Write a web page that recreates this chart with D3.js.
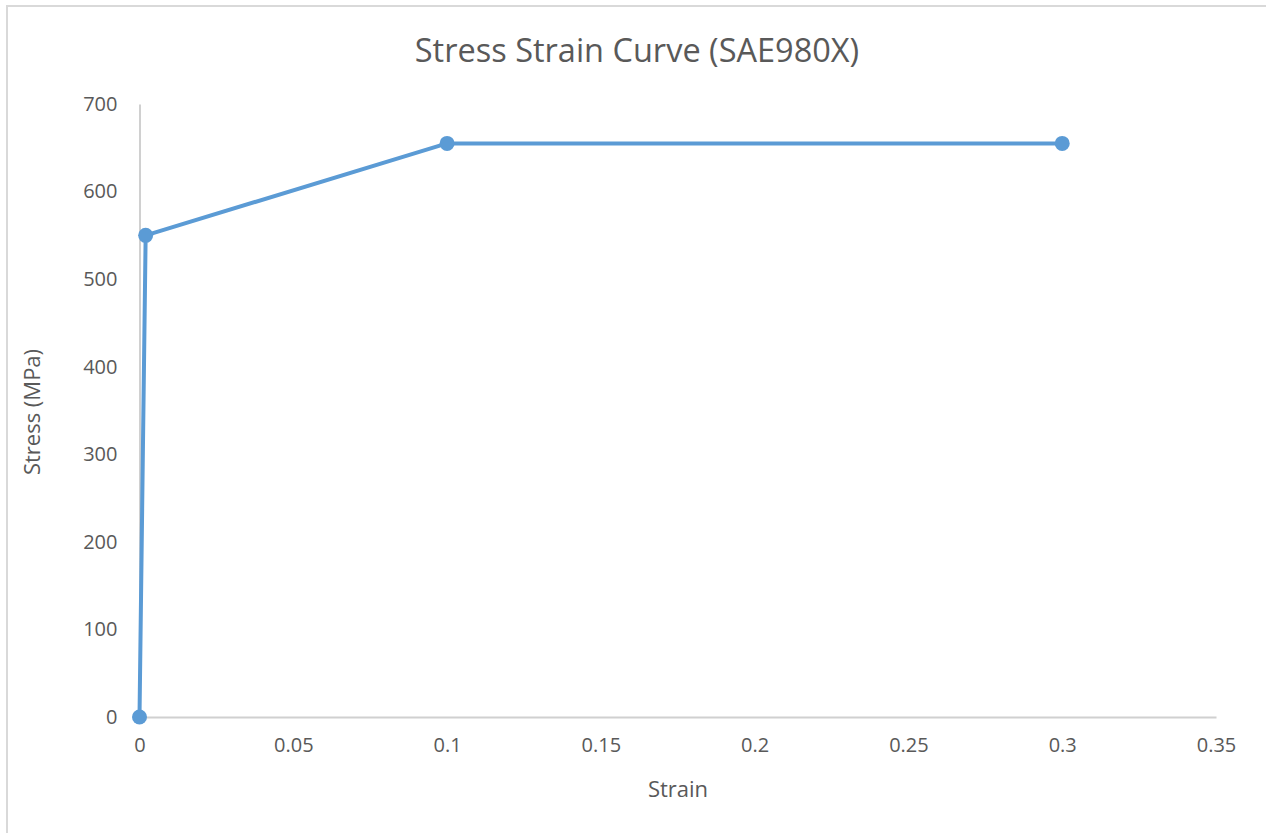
<!DOCTYPE html>
<html>
<head>
<meta charset="utf-8">
<script src="https://cdn.jsdelivr.net/npm/d3@7"></script>
<style>
  html, body { margin: 0; padding: 0; background: #fff; }
  svg { display: block; font-family: "Open Sans", "Noto Sans", sans-serif; }
</style>
</head>
<body>
<svg id="chart" width="1266" height="833"></svg>
<script>
// Stress–strain points for SAE980X
const strain = [0, 0.002, 0.1, 0.3];
const stress = [0, 550, 655, 655];
const xTicks = [0, 0.05, 0.1, 0.15, 0.2, 0.25, 0.3, 0.35];
const yTicks = [0, 100, 200, 300, 400, 500, 600, 700];

const svg = d3.select("#chart");
const W = 1266, H = 833;
const plot = { left: 139.5, right: 1216, top: 104, bottom: 717 };

// chart frame (top and left edges visible)
svg.append("path")
  .attr("d", `M7,${H} V6 H${W}`)
  .attr("fill", "none")
  .attr("stroke", "#d9d9d9")
  .attr("stroke-width", 2);

const x = d3.scaleLinear().domain([0, 0.35]).range([plot.left, plot.right]);
const y = d3.scaleLinear().domain([0, 700]).range([plot.bottom, plot.top]);

const textColor = "#595959";
const tickFont = "20px";

// x axis
const xAxis = svg.append("g")
  .attr("transform", `translate(0,${plot.bottom})`)
  .call(d3.axisBottom(x).tickValues(xTicks).tickSize(0).tickPadding(21)
        .tickFormat(d => String(+d.toFixed(2))));
xAxis.select(".domain").attr("stroke", "#d0d0d0").attr("stroke-width", 2);
xAxis.selectAll("text").attr("fill", textColor)
  .style("font-size", tickFont)
  .style("font-family", "'Open Sans', 'Noto Sans', sans-serif");

// y axis
const yAxis = svg.append("g")
  .attr("transform", `translate(${plot.left},0)`)
  .call(d3.axisLeft(y).tickValues(yTicks).tickSize(0).tickPadding(22));
yAxis.select(".domain").attr("stroke", "#d0d0d0").attr("stroke-width", 2);
yAxis.selectAll("text").attr("fill", textColor)
  .style("font-size", tickFont)
  .style("font-family", "'Open Sans', 'Noto Sans', sans-serif");

// title
svg.append("text")
  .attr("x", 637).attr("y", 62)
  .attr("text-anchor", "middle")
  .attr("fill", textColor)
  .style("font-size", "32.5px")
  .text("Stress Strain Curve (SAE980X)");

// axis titles
svg.append("text")
  .attr("x", 678).attr("y", 797)
  .attr("text-anchor", "middle")
  .attr("fill", textColor)
  .style("font-size", "22px")
  .text("Strain");

svg.append("text")
  .attr("transform", `translate(40,412) rotate(-90)`)
  .attr("text-anchor", "middle")
  .attr("fill", textColor)
  .style("font-size", "22px")
  .text("Stress (MPa)");

// curve
const pts = strain.map((s, i) => ({ s, v: stress[i] }));
const color = "#5b9bd5";
svg.append("path")
  .datum(pts)
  .attr("fill", "none")
  .attr("stroke", color)
  .attr("stroke-width", 4)
  .attr("stroke-linejoin", "round")
  .attr("d", d3.line().x(d => x(d.s)).y(d => y(d.v)));

svg.append("g").selectAll("circle")
  .data(pts)
  .join("circle")
  .attr("cx", d => x(d.s))
  .attr("cy", d => y(d.v))
  .attr("r", 7.5)
  .attr("fill", color);
</script>
</body>
</html>
